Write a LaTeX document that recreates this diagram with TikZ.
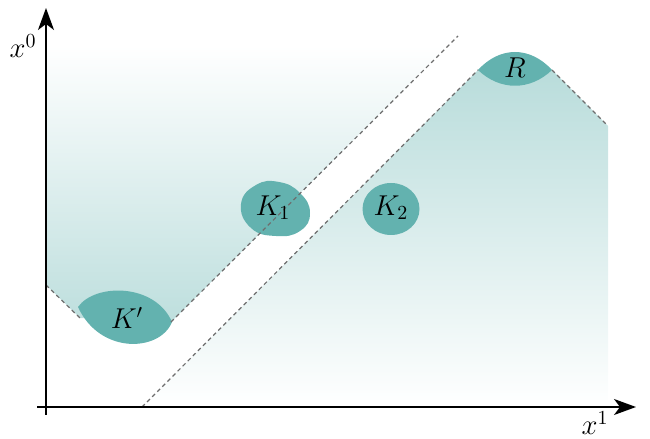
\documentclass[tikz,border=0pt]{standalone}
\usepackage{amsmath,amssymb}
\usepackage{xcolor}
\usepackage{tikz}
\usetikzlibrary{arrows.meta,positioning,calc}

\begin{document}
\begin{tikzpicture}[x=0.5bp,y=-0.5bp,font=\Large]
            \definecolor{blobcolor}{HTML}{63B2AF}
            \definecolor{conecolor}{HTML}{6E6E6E}
            \tikzset{
                cone/.style={conecolor,line width=0.6bp,dash pattern=on 2bp off 1.6bp},
                axis/.style={black,line width=0.8bp,-{Stealth[length=11bp,width=8bp,inset=3bp]}},
                blob/.style={fill=blobcolor,draw=none}
            }
            \useasboundingbox (0,0) rectangle (650,439);
            % corner points of the light cones
            \coordinate (kpl) at (80,318);
            \coordinate (kpr) at (171,322);
            \coordinate (rl) at (478,70);
            \coordinate (rr) at (552,70);
            \coordinate (lt) at (46,285);
            \coordinate (topend) at (458,36);
            \coordinate (foot) at (142,407);
            \coordinate (redge) at (608,126);
            % shaded regions
            \shade[top color=white,bottom color=blobcolor!42]
                (46,45) -- (lt) -- (kpl) -- (kpr) -- (449,45) -- cycle;
            \shade[top color=blobcolor!45,bottom color=white]
                (foot) -- (rl) -- (rr) -- (redge) -- (608,400) -- (149,400) -- cycle;
            % sets
            \fill[blob] (78,307) .. controls (95,283) and (155,283) .. (172,322)
                .. controls (160,352) and (100,355) .. (78,307) -- cycle;
            \fill[blob] plot[smooth cycle,tension=0.8] coordinates
                {(241,204) (256,185) (279,182) (300,193) (310,213) (300,231) (276,236) (251,228)};
            \fill[blob] (391,209) ellipse (28.5 and 26);
            \fill[blob] (rl) .. controls (500,46) and (530,46) .. (rr)
                .. controls (530,91) and (500,91) .. (rl) -- cycle;
            % cone boundaries
            \draw[cone] (lt) -- (kpl);
            \draw[cone] (kpr) -- (topend);
            \draw[cone] (foot) -- (rl);
            \draw[cone] (rr) -- (redge);
            % axes
            \draw[axis] (46,415) -- (46,8);
            \draw[axis] (37,407) -- (636,407);
            \node (xzero) at (23,46) {$x^0$};
            \node (xone) at (595,423) {$x^1$};
            % labels
            \node (kprime) at (127,318) {$K'$};
            \node (kone) at (273,208) {$K_1$};
            \node (ktwo) at (391,208) {$K_2$};
            \node (rset) at (515,68) {$R$};
        \end{tikzpicture}
\end{document}
